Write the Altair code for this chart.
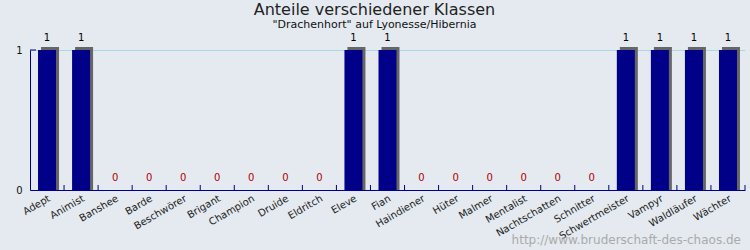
import altair as alt
import pandas as pd

categories = ["Adept", "Animist", "Banshee", "Barde", "Beschwörer", "Brigant", "Champion",
              "Druide", "Eldritch", "Eleve", "Fian", "Haindiener", "Hüter", "Malmer",
              "Mentalist", "Nachtschatten", "Schnitter", "Schwertmeister", "Vampyr",
              "Waldläufer", "Wächter"]
values = [1, 1, 0, 0, 0, 0, 0, 0, 0, 1, 1, 0, 0, 0, 0, 0, 0, 1, 1, 1, 1]
y_ticks = [0, 1]
watermark = ["http://www.bruderschaft-des-chaos.de"]

df = pd.DataFrame({"Klasse": categories, "Wert": values})

NAVY = "#000088"
FONT = "DejaVu Sans"

xscale = alt.Scale(paddingInner=0, paddingOuter=0)
yscale = alt.Scale(domain=[0, 1], nice=False)

xenc = alt.X("Klasse:N", sort=categories, scale=xscale,
             axis=alt.Axis(title=None, ticks=False, labelAngle=-30, labelAlign="right",
                           labelBaseline="top", labelPadding=3, labelFontSize=10,
                           labelFont=FONT, labelColor="#222222", domainColor=NAVY,
                           domainWidth=1, grid=False))
yenc = alt.Y("Wert:Q", scale=yscale,
             axis=alt.Axis(title=None, values=y_ticks, format="d", ticks=False,
                           grid=True, gridColor="#a6d8e6", domainColor=NAVY,
                           labelPadding=8, labelFontSize=10, labelFont=FONT,
                           labelColor="#111111"))

base = alt.Chart(df)

shadow = base.mark_bar(size=18, color="#666666", xOffset=3, yOffset=-3).encode(
    x=xenc, y=yenc, y2=alt.datum(0)
).transform_filter("datum.Wert > 0")

bars = base.mark_bar(size=18, color=NAVY).encode(x=xenc, y=yenc, y2=alt.datum(0))

labels = base.mark_text(dy=-9, baseline="alphabetic", fontSize=10, font=FONT).encode(
    x=xenc, y=yenc, text="Wert:Q",
    color=alt.condition("datum.Wert > 0", alt.value("#000000"), alt.value("#b00000"))
)

xticks = base.mark_rule(color=NAVY).encode(
    x=alt.X("Klasse:N", sort=categories, scale=xscale, bandPosition=1),
    y=alt.value(135), y2=alt.value(140)
)

ytick = alt.Chart(pd.DataFrame({"v": [1]})).mark_rule(color=NAVY).encode(
    y=alt.Y("v:Q", scale=yscale), x=alt.value(0), x2=alt.value(6)
)

wm = alt.Chart(pd.DataFrame({"t": watermark})).mark_text(
    align="right", baseline="alphabetic", fontSize=12, font=FONT, color="#aaaaaa"
).encode(text="t:N", x=alt.value(711), y=alt.value(194))

chart = alt.layer(shadow, bars, xticks, ytick, labels, wm).properties(
    width=715, height=140,
    title=alt.TitleParams(
        text="Anteile verschiedener Klassen",
        subtitle='"Drachenhort" auf Lyonesse/Hibernia',
        fontSize=16, fontWeight="normal", font=FONT, color="#222222",
        subtitleFontSize=11, subtitleFont=FONT, subtitleColor="#111111",
        subtitlePadding=1, anchor="middle", frame="group", dx=-13, offset=3
    ),
    autosize=alt.AutoSizeParams(type="none"),
    padding={"left": 30, "top": 50, "right": 5, "bottom": 60},
    background="#e4eaf0"
).configure_view(stroke=None)

chart.save("out.html", embed_options={"renderer": "svg", "actions": False})
